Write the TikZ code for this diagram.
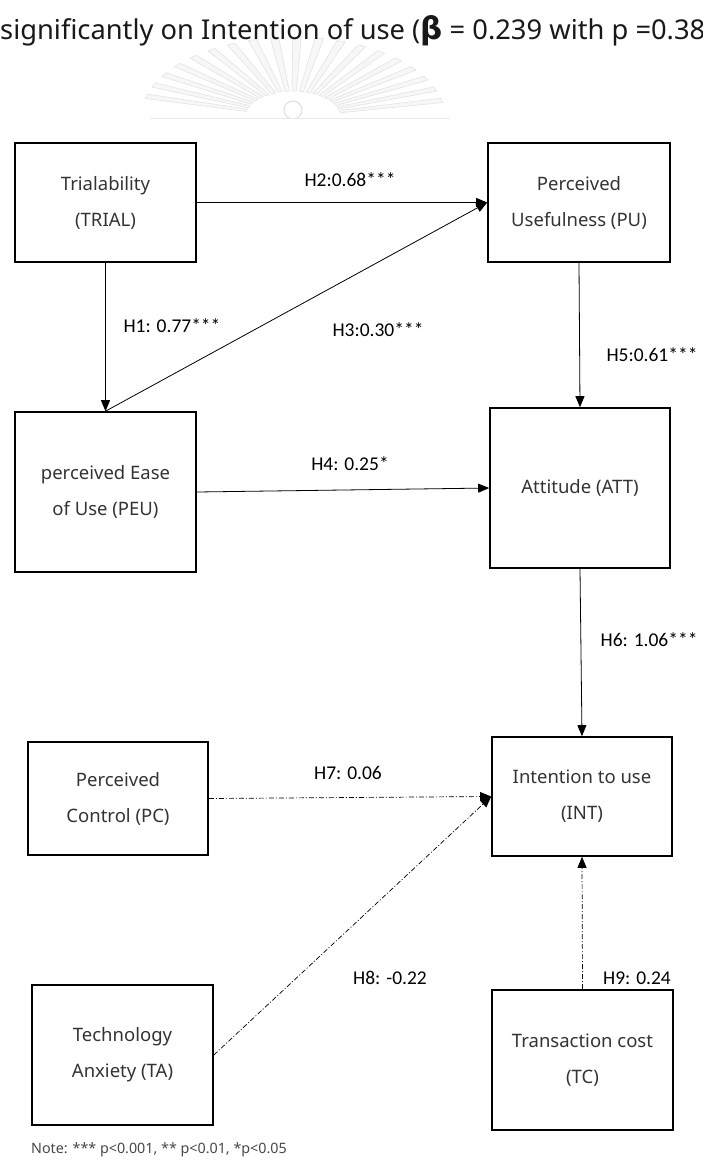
\documentclass[tikz,border=0pt]{standalone}
\usepackage{fontspec}
\setmainfont{Noto Sans}
\newfontfamily\labelfont{Carlito}
\newfontfamily\betafont{DejaVu Sans}
\usetikzlibrary{arrows.meta}

\tikzset{
  box/.style={draw=black, line width=1.6pt, align=center, inner sep=0pt,
    font=\fontsize{18.5}{36}\selectfont, text=black!80},
  link/.style={line width=0.8pt, -{Triangle[length=11pt,width=9pt]}},
  weak/.style={line width=0.7pt, dash pattern=on 5pt off 2pt on 1pt off 2pt,
    -{Triangle[length=11pt,width=9pt]}},
  coef/.style={font=\labelfont\fontsize{19.5}{21}\selectfont, text=black},
  ray/.style={draw=black!11, fill=black!3, line width=0.6pt},
}

\begin{document}
\begin{tikzpicture}[x=1pt, y=-1pt]
  \useasboundingbox (0,0) rectangle (702,1168);
  \clip (0,0) rectangle (702,1168);

  % faint emblem behind the heading
  \foreach \a in {12,20.5,...,170} {
    \draw[ray] ({293+48*cos(\a-2.6)},{117-26*sin(\a-2.6)})
      -- ({293+152*cos(\a-1.6)},{117-80*sin(\a-1.6)})
      -- ({293+152*cos(\a+1.6)},{117-80*sin(\a+1.6)})
      -- ({293+48*cos(\a+2.6)},{117-26*sin(\a+2.6)}) -- cycle;
  }
  \fill[white] (293,117) ellipse (44pt and 24pt);
  \draw[black!13, line width=1pt] (293,110) circle (9pt);
  \fill[white] (150,118) rectangle (450,130);
  \draw[black!9, line width=0.8pt] (150,118) -- (450,118);

  % heading line running off the page
  \node[anchor=base west, inner sep=0pt, font=\fontsize{27.3}{30}\selectfont, text=black!90]
    (head) at (0,39) {significantly on Intention of use ({\betafont\bfseries\fontsize{31}{34}\selectfont β} = 0.239 with p =0.38};

  % constructs
  \node[box, minimum width=181pt, minimum height=119pt] (trial) at (105.5,202.5) {Trialability\\(TRIAL)};
  \node[box, minimum width=182pt, minimum height=119pt] (pu) at (579,202.5) {Perceived\\Usefulness (PU)};
  \node[box, minimum width=181pt, minimum height=160pt] (peu) at (105.5,492) {perceived Ease\\of Use (PEU)};
  \node[box, minimum width=180pt, minimum height=160pt] (att) at (580,488) {Attitude (ATT)};
  \node[box, minimum width=180pt, minimum height=119pt] (int) at (582,796.5) {Intention to use\\(INT)};
  \node[box, minimum width=180pt, minimum height=113pt] (pc) at (118,798.5) {Perceived\\Control (PC)};
  \node[box, minimum width=181pt, minimum height=140pt] (ta) at (122.5,1055) {Technology\\Anxiety (TA)};
  \node[box, minimum width=181pt, minimum height=140pt] (tc) at (582.5,1060) {Transaction cost\\(TC)};

  % supported paths
  \draw[link] (trial.east) -- (pu.west);
  \draw[link] (trial.south) -- (peu.north);
  \draw[link] (peu.north) -- (pu.west);
  \draw[link] (peu.east) -- (att.west);
  \draw[link] (pu.south) -- (att.north);
  \draw[link] (att.south) -- (int.north);

  % non-significant paths
  \draw[weak] (pc.east) -- (int.west);
  \draw[weak] (ta.east) -- (int.west);
  \draw[weak] (tc.north) -- (int.south);

  % path coefficients
  \node[coef] (h2) at (350,180) {H2:0.68***};
  \node[coef] (h1) at (172,326) {H1: 0.77***};
  \node[coef] (h3) at (378,330) {H3:0.30***};
  \node[coef] (h4) at (350,464) {H4: 0.25*};
  \node[coef, anchor=east] (h5) at (701,355) {H5:0.61***};
  \node[coef, anchor=east] (h6) at (701,640) {H6: 1.06***};
  \node[coef] (h7) at (348,773) {H7: 0.06};
  \node[coef] (h8) at (390,978) {H8: -0.22};
  \node[coef] (h9) at (637,978) {H9: 0.24};

  % significance key
  \node[anchor=west, inner sep=0pt, font=\fontsize{14.3}{16}\selectfont, text=black!72]
    (note) at (31,1150) {Note: *** p<0.001, ** p<0.01, *p<0.05};
\end{tikzpicture}
\end{document}
